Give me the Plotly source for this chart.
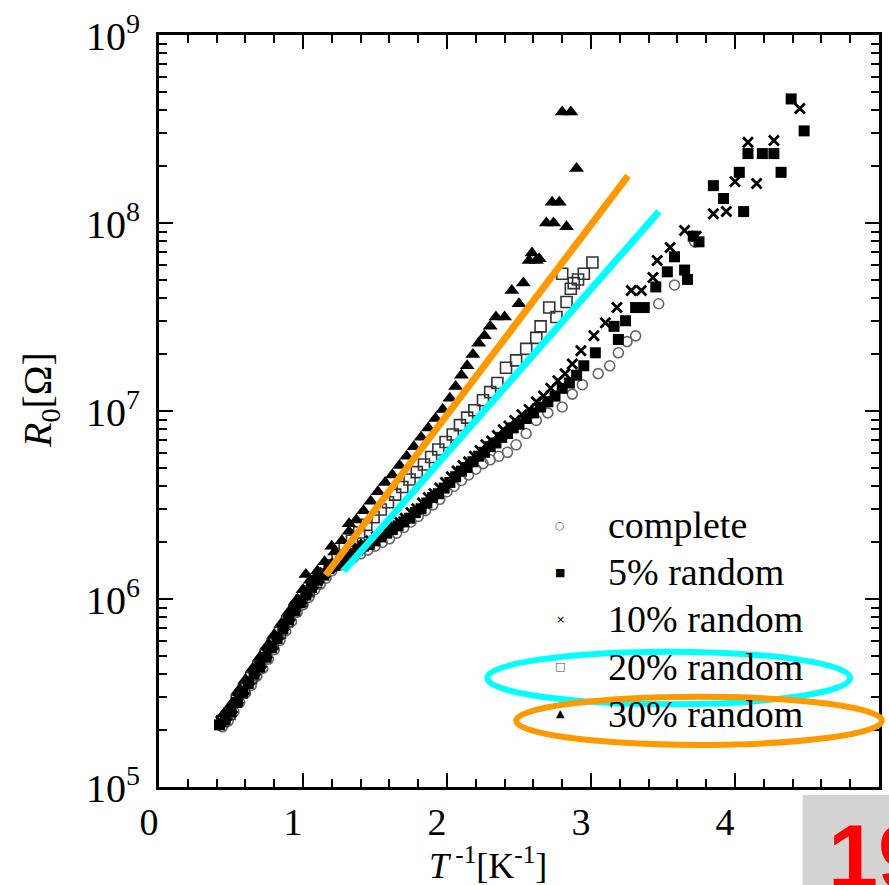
import plotly.graph_objects as go

# ---------------- data ----------------
complete_x = [0.44, 0.48, 0.52, 0.56, 0.60, 0.64, 0.68, 0.72, 0.76, 0.80, 0.84, 0.88, 0.92, 0.96, 1.00,
              1.04, 1.08, 1.12, 1.16, 1.20, 1.25, 1.30, 1.35, 1.40, 1.45, 1.50, 1.55, 1.60, 1.65, 1.70,
              1.75, 1.80, 1.85, 1.90, 1.95, 2.00, 2.05, 2.10, 2.15, 2.20, 2.25, 2.30, 2.36, 2.42, 2.48,
              2.55, 2.62, 2.70, 2.80, 2.87, 2.94, 3.05, 3.13, 3.19, 3.25, 3.31, 3.47, 3.58, 3.72]
complete_R = [2.09e5, 2.24e5, 2.51e5, 2.82e5, 3.16e5, 3.47e5, 3.89e5, 4.27e5, 4.79e5, 5.37e5, 6.03e5,
              6.76e5, 7.59e5, 8.51e5, 9.33e5, 1.02e6, 1.12e6, 1.20e6, 1.29e6, 1.41e6, 1.51e6, 1.58e6,
              1.66e6, 1.74e6, 1.82e6, 1.91e6, 2.00e6, 2.09e6, 2.24e6, 2.40e6, 2.57e6, 2.75e6, 2.95e6,
              3.16e6, 3.39e6, 3.72e6, 3.98e6, 4.27e6, 4.57e6, 4.90e6, 5.25e6, 5.50e6, 5.75e6, 6.03e6,
              6.61e6, 7.59e6, 8.91e6, 9.77e6, 1.05e7, 1.23e7, 1.38e7, 1.58e7, 1.74e7, 2.04e7, 2.34e7,
              2.51e7, 3.72e7, 4.68e7, 7.94e7]

r5_x = [0.42, 0.46, 0.50, 0.54, 0.58, 0.62, 0.66, 0.70, 0.74, 0.78, 0.82, 0.86, 0.90, 0.94, 0.98,
        1.02, 1.06, 1.10, 1.14, 1.18, 1.22, 1.26, 1.30, 1.34, 1.38, 1.42, 1.46, 1.50, 1.54, 1.58,
        1.62, 1.66, 1.70, 1.74, 1.78, 1.82, 1.86, 1.90, 1.94, 1.98, 2.02, 2.06, 2.10, 2.14, 2.18,
        2.22, 2.26, 2.30, 2.34, 2.38, 2.42, 2.46, 2.50, 2.55, 2.60, 2.65, 2.70, 2.75, 2.80, 2.85,
        2.90, 2.95, 3.03, 3.16, 3.19, 3.24, 3.31, 3.37, 3.45, 3.53, 3.58, 3.65, 3.67, 3.71, 3.75,
        3.85, 3.92, 4.03, 4.06, 4.09, 4.19, 4.27, 4.32, 4.39, 4.48]
r5_R = [2.14e5, 2.29e5, 2.51e5, 2.82e5, 3.16e5, 3.55e5, 3.98e5, 4.37e5, 4.90e5, 5.50e5, 6.17e5,
        6.92e5, 7.76e5, 8.71e5, 9.55e5, 1.05e6, 1.15e6, 1.26e6, 1.35e6, 1.45e6, 1.51e6, 1.58e6,
        1.66e6, 1.74e6, 1.82e6, 1.91e6, 1.95e6, 2.04e6, 2.14e6, 2.24e6, 2.34e6, 2.45e6, 2.57e6,
        2.69e6, 2.88e6, 3.02e6, 3.24e6, 3.47e6, 3.63e6, 3.89e6, 4.17e6, 4.47e6, 4.79e6, 5.01e6,
        5.37e6, 5.75e6, 6.03e6, 6.46e6, 6.76e6, 7.24e6, 7.59e6, 8.13e6, 8.51e6, 9.12e6, 9.77e6,
        1.05e7, 1.12e7, 1.20e7, 1.32e7, 1.41e7, 1.55e7, 1.74e7, 2.04e7, 2.82e7, 2.40e7, 3.02e7,
        3.55e7, 3.55e7, 4.57e7, 5.50e7, 6.61e7, 5.62e7, 5.01e7, 8.51e7, 7.94e7, 1.58e8, 1.35e8,
        1.86e8, 1.15e8, 2.34e8, 2.34e8, 2.34e8, 1.86e8, 4.57e8, 3.09e8]

r10_x = [0.43, 0.47, 0.51, 0.55, 0.59, 0.63, 0.67, 0.71, 0.75, 0.79, 0.83, 0.87, 0.91, 0.95, 0.99,
         1.03, 1.07, 1.11, 1.15, 1.19, 1.23, 1.27, 1.31, 1.35, 1.39, 1.43, 1.47, 1.51, 1.55, 1.59,
         1.63, 1.67, 1.71, 1.75, 1.79, 1.83, 1.87, 1.91, 1.95, 1.99, 2.03, 2.07, 2.11, 2.15, 2.19,
         2.23, 2.27, 2.31, 2.35, 2.39, 2.43, 2.47, 2.52, 2.57, 2.62, 2.67, 2.72, 2.77, 2.82, 2.87,
         2.93, 3.02, 3.10, 3.18, 3.28, 3.35, 3.43, 3.46, 3.55, 3.65, 3.73, 3.85, 3.94, 4.00, 4.09,
         4.15, 4.27, 4.45]
r10_R = [2.24e5, 2.40e5, 2.63e5, 2.95e5, 3.31e5, 3.72e5, 4.17e5, 4.57e5, 5.13e5, 5.75e5, 6.46e5,
         7.24e5, 8.13e5, 9.12e5, 1.00e6, 1.10e6, 1.20e6, 1.29e6, 1.38e6, 1.48e6, 1.55e6, 1.62e6,
         1.70e6, 1.78e6, 1.86e6, 1.95e6, 2.04e6, 2.14e6, 2.24e6, 2.34e6, 2.45e6, 2.57e6, 2.69e6,
         2.88e6, 3.02e6, 3.24e6, 3.47e6, 3.63e6, 3.89e6, 4.17e6, 4.47e6, 4.79e6, 5.13e6, 5.37e6,
         5.75e6, 6.17e6, 6.61e6, 6.92e6, 7.41e6, 7.94e6, 8.32e6, 8.91e6, 9.55e6, 1.02e7, 1.12e7,
         1.20e7, 1.32e7, 1.45e7, 1.58e7, 1.78e7, 2.09e7, 2.51e7, 2.95e7, 3.55e7, 4.37e7, 4.37e7,
         5.13e7, 6.31e7, 7.41e7, 9.12e7, 8.51e7, 1.12e8, 1.15e8, 1.66e8, 2.69e8, 1.62e8, 2.75e8,
         4.07e8]

r20_x = [0.44, 0.49, 0.54, 0.59, 0.64, 0.69, 0.74, 0.79, 0.84, 0.89, 0.94, 0.99, 1.04, 1.09, 1.14,
         1.19, 1.24, 1.29, 1.34, 1.39, 1.44, 1.49, 1.54, 1.59, 1.64, 1.69, 1.74, 1.79, 1.84, 1.89,
         1.94, 1.99, 2.04, 2.09, 2.14, 2.19, 2.25, 2.30, 2.35, 2.41, 2.48, 2.55, 2.62, 2.65, 2.71,
         2.76, 2.80, 2.83, 2.86, 2.88, 2.91, 2.95, 3.01]
r20_R = [2.24e5, 2.45e5, 2.88e5, 3.31e5, 3.80e5, 4.37e5, 5.01e5, 5.75e5, 6.61e5, 7.59e5, 8.71e5,
         9.77e5, 1.10e6, 1.23e6, 1.35e6, 1.51e6, 1.70e6, 1.86e6, 2.04e6, 2.26e6, 2.48e6, 2.72e6,
         2.99e6, 3.27e6, 3.59e6, 3.94e6, 4.32e6, 4.73e6, 5.19e6, 5.69e6, 6.24e6, 6.84e6, 7.50e6,
         8.41e6, 9.22e6, 1.01e7, 1.14e7, 1.26e7, 1.41e7, 1.70e7, 1.86e7, 2.14e7, 2.45e7, 2.82e7,
         3.55e7, 3.16e7, 5.37e7, 3.80e7, 4.47e7, 4.79e7, 5.01e7, 5.37e7, 6.17e7]

r30_x = [0.45, 0.50, 0.55, 0.60, 0.65, 0.70, 0.75, 0.80, 0.85, 0.90, 0.95, 1.00, 1.02, 1.05, 1.10,
         1.15, 1.20, 1.22, 1.27, 1.32, 1.32, 1.37, 1.42, 1.47, 1.52, 1.57, 1.62, 1.67, 1.72, 1.77,
         1.82, 1.87, 1.92, 1.97, 2.02, 2.06, 2.10, 2.14, 2.18, 2.22, 2.26, 2.30, 2.34, 2.40, 2.45,
         2.50, 2.53, 2.57, 2.59, 2.62, 2.64, 2.69, 2.74, 2.73, 2.78, 2.83, 2.90, 2.80, 2.86]
r30_R = [2.45e5, 2.75e5, 3.24e5, 3.72e5, 4.27e5, 4.90e5, 5.62e5, 6.46e5, 7.41e5, 8.51e5, 9.77e5,
         1.12e6, 1.35e6, 1.26e6, 1.41e6, 1.58e6, 1.91e6, 1.78e6, 2.04e6, 2.51e6, 2.29e6, 2.63e6,
         2.95e6, 3.31e6, 3.72e6, 4.17e6, 4.57e6, 5.13e6, 5.75e6, 6.46e6, 7.24e6, 8.13e6, 9.12e6,
         1.02e7, 1.17e7, 1.35e7, 1.55e7, 1.74e7, 2.00e7, 2.29e7, 2.51e7, 2.82e7, 3.16e7, 3.16e7,
         4.37e7, 3.72e7, 4.79e7, 6.31e7, 6.92e7, 6.31e7, 6.46e7, 1.00e8, 1.00e8, 1.29e8, 1.29e8,
         9.55e7, 1.95e8, 3.89e8, 3.89e8]

# hand-drawn guide lines (overlay)
orange_x = [1.157, 3.257]
orange_R = [1.34e6, 1.78e8]
cyan_x = [1.282, 3.472]
cyan_R = [1.41e6, 1.15e8]

series_names = ["complete", "5% random", "10% random", "20% random", "30% random"]
legend_glyphs = ["○", "■", "×", "□", "▲"]
legend_glyph_colors = ["#666666", "black", "black", "#444444", "black"]
x_tick_vals = [0, 1, 2, 3, 4]
x_tick_text = ["0", "1", "2", "3", "4"]
y_tick_exponents = [5, 6, 7, 8, 9]
y_tick_text = ["10<sup>5</sup>", "10<sup>6</sup>", "10<sup>7</sup>", "10<sup>8</sup>", "10<sup>9</sup>"]

# ---------------- figure ----------------
SERIF = "Liberation Serif"
fig = go.Figure()

fig.add_trace(go.Scatter(x=complete_x, y=complete_R, mode="markers", name=series_names[0],
                         marker=dict(symbol="circle-open", size=10, color="#666666",
                                     line=dict(width=1.6, color="#666666"))))
fig.add_trace(go.Scatter(x=r20_x, y=r20_R, mode="markers", name=series_names[3],
                         marker=dict(symbol="square-open", size=11, color="#333333",
                                     line=dict(width=1.6, color="#333333"))))
fig.add_trace(go.Scatter(x=r5_x, y=r5_R, mode="markers", name=series_names[1],
                         marker=dict(symbol="square", size=11, color="black")))
fig.add_trace(go.Scatter(x=r10_x, y=r10_R, mode="markers", name=series_names[2],
                         marker=dict(symbol="x-thin", size=10, color="black",
                                     line=dict(width=2.8, color="black"))))
fig.add_trace(go.Scatter(x=r30_x, y=r30_R, mode="markers", name=series_names[4],
                         marker=dict(symbol="triangle-up", size=13, color="black")))

fig.add_trace(go.Scatter(x=orange_x, y=orange_R, mode="lines", name="fit 30%",
                         line=dict(color="#FF9900", width=7)))
fig.add_trace(go.Scatter(x=cyan_x, y=cyan_R, mode="lines", name="fit 20%",
                         line=dict(color="#00FFFF", width=7)))

axis_common = dict(showline=True, linecolor="black", linewidth=2.5, mirror="ticks",
                   ticks="inside", tickcolor="black", tickwidth=2, showgrid=False,
                   zeroline=False, automargin=False,
                   tickfont=dict(family=SERIF, size=38, color="black"))

fig.update_xaxes(range=[0, 5], tickmode="array", tickvals=x_tick_vals, ticktext=x_tick_text,
                 ticklen=14, ticklabelstandoff=0, ticklabelshift=-10,
                 minor=dict(ticks="inside", ticklen=8, tickwidth=2, tickcolor="black",
                            tick0=0, dtick=0.2, showgrid=False),
                 **axis_common)
fig.update_yaxes(type="log", range=[5, 9], dtick=1, showticklabels=False,
                 ticklen=14,
                 minor=dict(ticks="inside", ticklen=8, tickwidth=2, tickcolor="black",
                            dtick="D1", showgrid=False),
                 **axis_common)

shapes = [
    dict(type="circle", xref="paper", yref="paper", x0=0.456, x1=0.960, y0=0.110, y1=0.180,
         line=dict(color="#00FFFF", width=6)),
    dict(type="circle", xref="paper", yref="paper", x0=0.496, x1=1.004, y0=0.056, y1=0.120,
         line=dict(color="#FF9900", width=6)),
    dict(type="rect", xref="paper", yref="paper", x0=0.894, x1=1.06, y0=-0.16, y1=-0.0106,
         line=dict(width=0), fillcolor="#d3d3d3"),
]

annotations = [
    dict(text="<i>T</i><sup> -1</sup>[K<sup>-1</sup>]", xref="paper", yref="paper",
         x=0.457, y=-0.102, xanchor="center", yanchor="middle", showarrow=False,
         font=dict(family=SERIF, size=36, color="black")),
    dict(text="<i>R</i><sub>0</sub>[Ω]", xref="paper", yref="paper", textangle=-90,
         x=-0.165, y=0.515, xanchor="center", yanchor="middle", showarrow=False,
         font=dict(family=SERIF, size=40, color="black")),
    dict(text="<b>19</b>", xref="paper", yref="paper", x=0.926, y=-0.0237,
         xanchor="left", yanchor="top", showarrow=False,
         font=dict(family="Liberation Sans", size=90, color="#FF0000")),
]

# y tick labels (placed on the log axis at each decade)
for e, t in zip(y_tick_exponents, y_tick_text):
    annotations.append(dict(text=t, xref="paper", yref="y", x=-0.0236, y=e,
                            xanchor="right", yanchor="middle", showarrow=False, yshift=2,
                            font=dict(family=SERIF, size=40, color="black")))

# manual legend (rows placed as in the original)
legend_rows_y = [0.3484, 0.2859, 0.2234, 0.1596, 0.0971]
for name, glyph, gcol, ry in zip(series_names, legend_glyphs, legend_glyph_colors, legend_rows_y):
    annotations.append(dict(text=glyph, xref="paper", yref="paper", x=0.557, y=ry,
                            xanchor="center", yanchor="middle", showarrow=False,
                            font=dict(family="DejaVu Sans", size=11, color=gcol)))
    annotations.append(dict(text=name, xref="paper", yref="paper", x=0.621, y=ry,
                            xanchor="left", yanchor="middle", showarrow=False,
                            font=dict(family=SERIF, size=38, color="black")))

fig.update_layout(
    width=889, height=885,
    margin=dict(l=159, r=10, t=35, b=98),
    paper_bgcolor="white", plot_bgcolor="white",
    showlegend=False,
    shapes=shapes, annotations=annotations,
)

fig.write_html("out.html")
